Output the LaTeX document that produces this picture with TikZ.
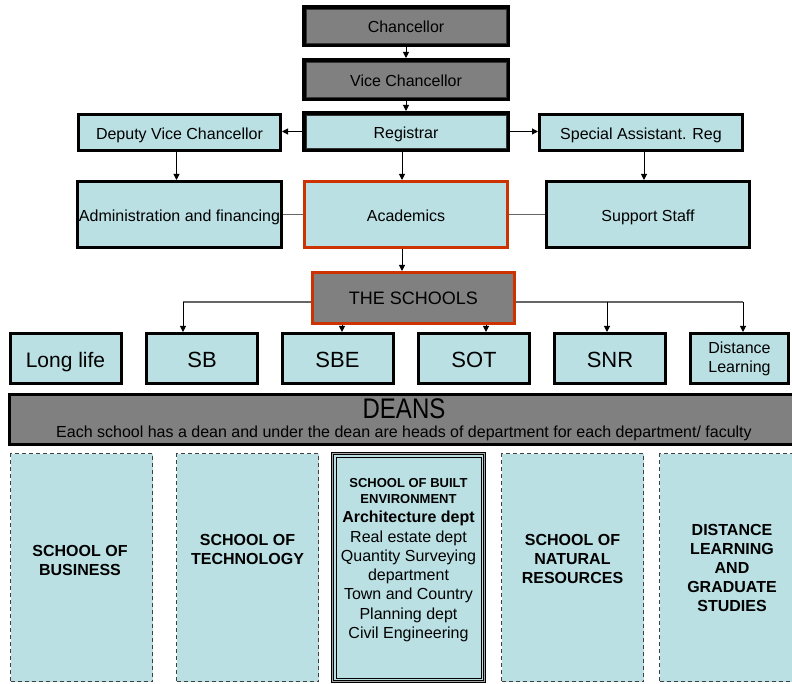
\documentclass[tikz,border=0pt]{standalone}
\usepackage{fontspec}
\setmainfont{Liberation Sans}
\usetikzlibrary{arrows.meta}

\definecolor{paleblue}{HTML}{BAE0E3}
\definecolor{boxgray}{HTML}{808080}
\definecolor{rimred}{HTML}{CC3300}

\newcommand{\sbehead}[1]{{\fontsize{13}{16}\selectfont\bfseries #1}}

\tikzset{
  unitbox/.style={draw=black, line width=3pt, fill=paleblue, inner sep=1pt,
    text height=14.5pt, text depth=0pt, font=\fontsize{16}{19}\selectfont},
  freetext/.style={align=center, text height=, text depth=},
  headbox/.style={unitbox, line width=4pt, fill=boxgray},
  rowbox/.style={unitbox, minimum width=111pt, minimum height=50pt, text height=18.8pt,
    font=\fontsize{22}{26}\selectfont},
  deptbox/.style={draw=black!75, line width=1pt, dash pattern=on 4pt off 3pt, fill=paleblue,
    minimum width=142pt, minimum height=228pt},
  depttext/.style={align=center, font=\fontsize{16}{19}\selectfont\bfseries},
  arr/.style={-{Triangle[length=6pt,width=6pt]}, line width=1pt},
  link/.style={line width=1.3pt, draw=black!60},
}

\begin{document}
\begin{tikzpicture}[x=1pt,y=-1pt]
  \useasboundingbox (0,0) rectangle (792,684);

  % top of the chain
  \node (chan) [headbox, text height=13.5pt, minimum width=204pt, minimum height=38pt] at (406,26) {Chancellor};
  \node (vc) [headbox, minimum width=204pt, minimum height=39pt] at (406,79.5) {Vice Chancellor};
  \node (reg) [headbox, fill=paleblue, minimum width=204pt, minimum height=37pt] at (406,131.5) {Registrar};
  \foreach \n in {chan,vc,reg}
    \draw[line width=0.8pt, black!80] ([shift={(4pt,-4pt)}]\n.north west) rectangle ([shift={(-4pt,4pt)}]\n.south east);

  \node (dvc) [unitbox, minimum width=202pt, minimum height=36pt] at (179.5,132.5) {Deputy Vice Chancellor};
  \node (sar) [unitbox, minimum width=203pt, minimum height=36pt] at (641,132.5) {Special Assistant. Reg};

  \node (adm) [unitbox, minimum width=202pt, minimum height=66pt] at (179.5,214.5) {Administration and financing};
  \node (acad) [unitbox, draw=rimred, minimum width=203pt, minimum height=66pt] at (406,214.5) {Academics};
  \node (sup) [unitbox, minimum width=203pt, minimum height=66pt] at (648,214.5) {Support Staff};

  \node (schools) [unitbox, draw=rimred, fill=boxgray, minimum width=202pt, minimum height=51pt,
    text height=13pt, font=\fontsize{18}{21}\selectfont] at (413.5,298) {THE SCHOOLS};

  % the schools
  \node (long) [rowbox, font=\fontsize{21}{25}\selectfont] at (65.5,358.5) {Long life};
  \node (sb) [rowbox] at (202,358.5) {SB};
  \node (sbe) [rowbox] at (337.5,358.5) {SBE};
  \node (sot) [rowbox] at (474,358.5) {SOT};
  \node (snr) [rowbox] at (610,358.5) {SNR};
  \node (dl) [rowbox, freetext, minimum width=98pt, font=\fontsize{16}{19}\selectfont] at (739.5,358.5) {Distance\\Learning};

  \node (deans) [unitbox, freetext, fill=boxgray, minimum width=789pt, minimum height=50pt] at (404,419.5)
    {\fontsize{24}{22}\selectfont\scalebox{1}[1.18]{DEANS}\\
     \fontsize{16}{29}\selectfont Each school has a dean and under the dean are heads of department for each department/ faculty};

  % departments
  \node (bus) [deptbox] at (81.5,567.5) {};
  \node (tech) [deptbox] at (247.5,567.5) {};
  \node (built) [deptbox, solid, draw=black, line width=0.8pt, double=black!35, double distance=1.5pt,
    minimum width=152pt] at (408.5,567.5) {};
  \draw[line width=0.8pt] ([shift={(4pt,-4pt)}]built.north west) rectangle ([shift={(-4pt,4pt)}]built.south east);
  \node (nat) [deptbox] at (572.5,567.5) {};
  \node (grad) [deptbox] at (730.5,567.5) {};

  \node (bustxt) [depttext] at (80,560) {SCHOOL OF\\BUSINESS};
  \node (techtxt) [depttext] at (247.5,549) {SCHOOL OF\\TECHNOLOGY};
  \node (builttxt) [depttext, font=\fontsize{16}{19.3}\selectfont] at (408.5,560)
    {\sbehead{SCHOOL OF BUILT}\\[-3pt]\sbehead{ENVIRONMENT}\\\textbf{Architecture dept}\\Real estate dept\\
     Quantity Surveying\\department\\Town and Country\\Planning dept\\Civil Engineering};
  \node (nattxt) [depttext] at (572.5,559) {SCHOOL OF\\NATURAL\\RESOURCES};
  \node (gradtxt) [depttext] at (732,568) {DISTANCE\\LEARNING\\AND\\GRADUATE\\STUDIES};

  % connectors
  \draw[arr] (chan) -- (vc);
  \draw[arr] (vc) -- (reg);
  \draw[arr] (reg.west) -- (reg.west -| dvc.east);
  \draw[arr] (reg.east) -- (reg.east -| sar.west);
  \coordinate (regfoot) at ([xshift=-4pt]reg.south);
  \draw[arr] (regfoot) -- (regfoot |- acad.north);
  \coordinate (dvcfoot) at ([xshift=-3pt]dvc.south);
  \draw[arr] (dvcfoot) -- (dvcfoot |- adm.north);
  \coordinate (sarfoot) at ([xshift=3pt]sar.south);
  \draw[arr] (sarfoot) -- (sarfoot |- sup.north);
  \draw[link] (adm) -- (acad);
  \draw[link] (acad) -- (sup);
  \coordinate (acadfoot) at ([xshift=-4pt]acad.south);
  \draw[arr] (acadfoot) -- (acadfoot |- schools.north);

  \coordinate (leftrun) at ([yshift=-4pt]schools.west);
  \coordinate (rightrun) at ([yshift=-4pt]schools.east);
  \coordinate (sbtop) at ([xshift=-19pt]sb.north);
  \coordinate (sbetop) at ([xshift=4.5pt]sbe.north);
  \coordinate (sottop) at ([xshift=12pt]sot.north);
  \coordinate (snrtop) at ([xshift=-3pt]snr.north);
  \coordinate (dltop) at ([xshift=3.5pt]dl.north);
  \draw[link] (leftrun) -- (leftrun -| sbtop);
  \draw[link] (rightrun) -- (rightrun -| dltop);
  \draw[arr] (leftrun -| sbtop) -- (sbtop);
  \draw[arr] (rightrun -| snrtop) -- (snrtop);
  \draw[arr] (rightrun -| dltop) -- (dltop);
  \draw[arr] (sbetop |- schools.south) -- (sbetop);
  \draw[arr] (sottop |- schools.south) -- (sottop);
\end{tikzpicture}
\end{document}
